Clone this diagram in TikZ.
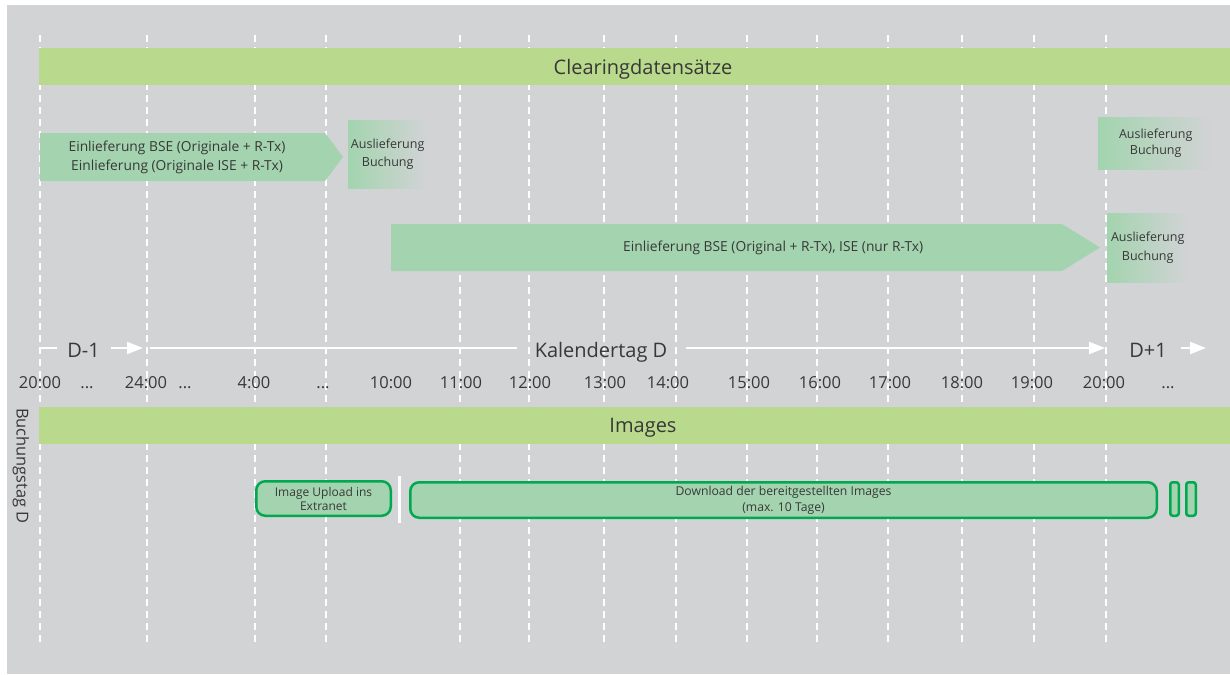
\documentclass[tikz,border=0pt]{standalone}
\usepackage{fontspec}
\setmainfont{Open Sans}
\usetikzlibrary{arrows.meta}
\definecolor{bg}{HTML}{D2D3D5}
\definecolor{barg}{HTML}{B9DA8C}
\definecolor{mint}{HTML}{A3D4AF}
\definecolor{bord}{HTML}{00A84F}
\definecolor{ink}{HTML}{383838}
\newcommand\fsz[2]{\fontsize{#1}{#2}\selectfont}
\newcommand\tdots{...}
\begin{document}
\begin{tikzpicture}[x=1pt,y=-1pt,
  gridline/.style={white, line width=2pt, dash pattern=on 7pt off 5pt},
  lbl/.style={text=ink, inner sep=0pt, align=center},
  tlabel/.style={lbl, anchor=base, font=\fsz{16.5}{16.5}},
  tline/.style={white, line width=2.3pt},
  tiptri/.style={-{Triangle[length=16pt,width=12pt]}},
  arrowfill/.style={fill=mint},
  fadebox/.style={lbl, left color=mint, right color=bg, inner sep=0pt, anchor=north west},
  rbox/.style={lbl, draw=bord, line width=2.5pt, fill=mint, rounded corners=9pt, inner sep=0pt},
  sbox/.style={draw=bord, line width=2.5pt, fill=mint, rounded corners=2.5pt, inner sep=0pt}
]
\useasboundingbox (0,0) rectangle (1230,674);
\fill[white] (0,0) rectangle (1230,674);
\fill[bg] (7,5) rectangle (1230,674);

% dashed grid
\foreach \x in {40,147,255,326,460,529,604,676,747,817,888,962,1034,1106}
  \draw[gridline] (\x,35) -- (\x,647);

% Clearing bar
\fill[barg] (39,48) rectangle (1230,85);
\node[lbl, anchor=base, font=\fsz{20}{20}] (clearing) at (643,75) {Clearingdatensätze};

% first arrow
\fill[arrowfill] (40,133) -- (325,133) -- (343,157) -- (325,181) -- (40,181) -- cycle;
\node[lbl, font=\fsz{13.8}{18.5}] (ein1) at (177,157.5)
  {Einlieferung BSE (Originale + R-Tx)\\Einlieferung (Originale ISE + R-Tx)};

% long arrow
\fill[arrowfill] (391,224) -- (1062,224) -- (1100,247.5) -- (1062,271) -- (391,271) -- cycle;
\node[lbl, anchor=west, font=\fsz{13.8}{16}] (ein2) at (623,247.5)
  {Einlieferung BSE (Original + R-Tx), ISE (nur R-Tx)};

% Auslieferung boxes
\node[fadebox, minimum width=79pt, minimum height=68pt, font=\fsz{12.5}{18}] (aus1) at (348,120) {Auslieferung\\Buchung};
\node[fadebox, minimum width=115pt, minimum height=52pt, font=\fsz{12.5}{16}] (aus2) at (1098,117) {Auslieferung\\Buchung};
\node[fadebox, minimum width=81pt, minimum height=69pt, font=\fsz{12.5}{19}] (aus3) at (1107,213) {Auslieferung\\Buchung};

% timeline
\coordinate (a0) at (40,348);
\coordinate (a1) at (57,348);
\coordinate (b0) at (111,348);
\coordinate (b1) at (143,348);
\coordinate (c0) at (150,348);
\coordinate (c1) at (517,348);
\coordinate (d0) at (686,348);
\coordinate (d1) at (1105,348);
\coordinate (e0) at (1181,348);
\coordinate (e1) at (1206,348);
\draw[tline] (a0) -- (a1);
\draw[tline, tiptri] (b0) -- (b1);
\draw[tline] (c0) -- (c1);
\draw[tline, tiptri] (d0) -- (d1);
\draw[tline, tiptri] (e0) -- (e1);
\node[lbl, anchor=base, font=\fsz{20}{20}] (dm1) at (83.5,357) {D-1};
\node[lbl, anchor=base, font=\fsz{20}{20}] (kal) at (601,357) {Kalendertag D};
\node[lbl, anchor=base, font=\fsz{20}{20}] (dp1) at (1148,357) {D+1};

% time labels
\foreach \x/\t [count=\i] in {40/20:00, 87/\tdots, 146/24:00, 185/\tdots, 254/4:00, 323/\tdots, 391/10:00,
   461/11:00, 530/12:00, 605/13:00, 668/14:00, 749/15:00, 820/16:00, 890/17:00,
   962/18:00, 1032/19:00, 1104/20:00, 1168/\tdots}
  \node[tlabel] (time\i) at (\x,388) {\t};

% Images bar
\fill[barg] (39,407) rectangle (1230,444);
\node[lbl, anchor=base, font=\fsz{20}{20}] (images) at (643,432) {Images};

\node[lbl, rotate=-90, font=\fsz{16.4}{16.4}] (buchungstag) at (21,466) {Buchungstag D};

% image boxes
\node[rbox, minimum width=134.5pt, minimum height=34.5pt, font=\fsz{12}{14}] (upload) at (323.5,498.5)
  {Image Upload ins\\Extranet};
\draw[white, line width=3pt] (399,476) -- (399,523);
\node[rbox, minimum width=746.5pt, minimum height=35.5pt, font=\fsz{12.2}{16}] (download) at (783.5,500)
  {Download der bereitgestellten Images\\(max. 10 Tage)};
\node[sbox, minimum width=8.5pt, minimum height=33.5pt] (s1) at (1174.5,499) {};
\node[sbox, minimum width=9.5pt, minimum height=33.5pt] (s2) at (1191,499) {};
\end{tikzpicture}
\end{document}
